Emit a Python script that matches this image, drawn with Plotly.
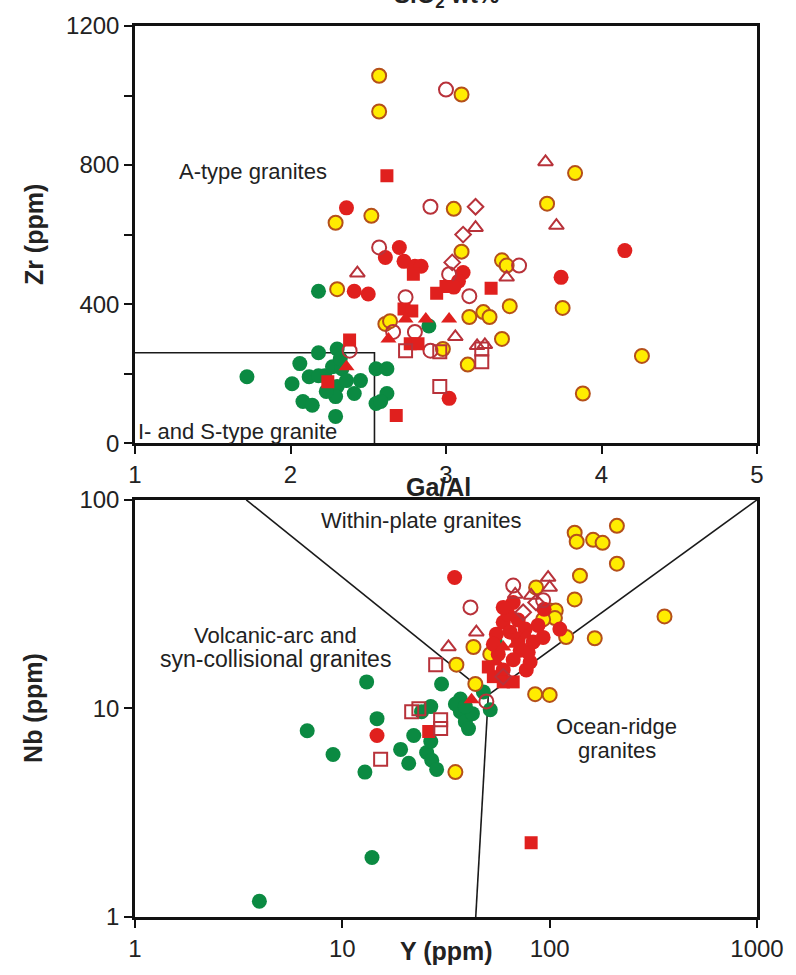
import plotly.graph_objects as go

# ---------------- Top panel: Zr (ppm) vs Ga/Al ----------------
ga_green = [1.72, 2.18, 2.18, 2.30, 2.06, 2.01, 2.08, 2.14, 2.22, 2.27, 2.30, 2.33, 2.36, 2.45, 2.29, 2.29,
            2.55, 2.62, 2.55, 2.62, 2.23, 2.12, 2.41, 2.89, 2.58, 2.18, 2.32]
zr_green = [191, 437, 260, 271, 229, 171, 120, 109, 194, 220, 163, 214, 180, 180, 134, 77,
            214, 214, 114, 143, 149, 191, 143, 337, 120, 194, 243]

ga_yellow = [2.57, 2.57, 3.10, 2.29, 2.52, 3.05, 3.83, 3.65, 3.10, 2.30, 3.36, 3.39, 3.41, 3.75, 3.15, 3.24,
             3.28, 3.36, 3.14, 4.26, 3.88, 2.98, 2.61, 2.64]
zr_yellow = [1057, 954, 1003, 634, 654, 674, 777, 689, 551, 443, 526, 511, 394, 389, 363, 377,
             363, 300, 226, 251, 143, 271, 343, 351]

ga_redcirc = [2.36, 2.41, 2.50, 2.61, 2.70, 2.73, 2.80, 2.84, 3.11, 3.08, 3.05, 3.74, 4.15, 3.02]
zr_redcirc = [677, 437, 429, 534, 563, 523, 509, 509, 491, 466, 449, 477, 554, 129]

ga_opencirc = [3.00, 2.90, 2.57, 2.38, 3.02, 3.15, 3.47, 2.74, 2.66, 2.80, 2.90]
zr_opencirc = [1017, 680, 563, 266, 486, 423, 511, 420, 320, 320, 266]

ga_redsq = [2.62, 2.79, 2.94, 3.00, 3.29, 2.68, 2.73, 2.78, 2.77, 2.82, 2.38, 2.24]
zr_redsq = [769, 486, 431, 451, 446, 80, 386, 380, 286, 286, 297, 177]

ga_opensq = [2.96, 2.74, 2.96, 3.23, 3.23]
zr_opensq = [163, 266, 263, 234, 271]

ga_redtri = [2.87, 3.02, 2.74, 2.63, 2.36]
zr_redtri = [357, 357, 357, 300, 220]

ga_opentri = [2.43, 3.19, 3.64, 3.71, 3.39, 3.06, 3.20, 3.25]
zr_opentri = [489, 620, 809, 626, 477, 306, 280, 283]

ga_opendia = [3.19, 3.11, 3.04]
zr_opendia = [680, 600, 520]

# I- and S-type field boundary
ga_is_line = [1.0, 2.54, 2.54]
zr_is_line = [260, 260, 0]

# ---------------- Bottom panel: Nb (ppm) vs Y (ppm) ----------------
y_green = [6.77, 9.02, 12.85, 13.9, 3.98, 13.1, 14.7, 30.1, 37.1, 37.1, 39.2, 40.6, 51.7, 47.9, 35.1,
           19.1, 20.9, 22.1, 24.1, 26.7, 25.5, 27.0, 28.5, 26.7, 54.7, 42.4, 39.2]
nb_green = [7.81, 6.01, 4.95, 1.93, 1.19, 13.4, 8.93, 13.1, 11.1, 9.65, 8.64, 8.0, 9.86, 12.0, 10.5,
            6.36, 5.46, 7.41, 9.65, 10.2, 6.15, 5.64, 5.1, 6.94, 20.8, 9.44, 10.2]

y_yellow = [42.9, 35.5, 43.8, 51.7, 86, 85.1, 100, 100, 107, 106, 120, 140, 132, 135, 162, 180,
            211, 211, 132, 358, 165, 35.1, 93]
nb_yellow = [19.7, 16.2, 13.1, 18.2, 38.0, 11.7, 11.6, 29.5, 29.5, 27.1, 22.0, 43.3, 69.5, 63, 64.3, 62.2,
             75, 49.4, 33.3, 27.6, 21.7, 4.95, 26.7]

y_redcirc = [14.7, 34.8, 59.7, 64.5, 70.5, 76.2, 83.2, 87.9, 72.1, 56.5, 59.7, 77.1, 80.5, 94.0, 112, 66.7, 55.3,
             63.1, 70.5, 78.8, 93, 66.7, 53.5, 59.7]
nb_redcirc = [7.41, 42.4, 25.9, 23.2, 26.5, 24.0, 20.8, 25.0, 19.0, 18.2, 15.3, 15.3, 16.7, 29.9, 24.0, 32.2, 22.7,
              28.2, 21.5, 18.6, 21.9, 17.1, 20.3, 30.5]

y_opencirc = [41.5, 66.7, 49.5, 93]
nb_opencirc = [30.5, 38.8, 10.8, 33]

y_redsq = [26.1, 81.4, 53.5, 59.7, 66.7, 50.6]
nb_redsq = [7.75, 2.27, 14.2, 13.4, 13.4, 15.8]

y_opensq = [28.2, 15.3, 21.6, 23.4, 29.8, 29.8]
nb_opensq = [16.2, 5.7, 9.65, 9.97, 8.83, 8.0]

y_redtri = [42.0, 59.7, 68.2, 74.5, 63.1, 77.1, 55.3]
nb_redtri = [11.0, 19.7, 20.3, 19.7, 23.7, 22.4, 16.7]

y_opentri = [32.5, 44.3, 98.3, 68.2, 81.4, 100]
nb_opentri = [19.7, 23.2, 42.4, 35.2, 34.8, 38]

y_opendia = [59.7, 86, 74.5]
nb_opendia = [14.2, 32.2, 28.9]

# Pearce et al. field boundaries
y_wpg_vag = [3.44, 50.6]
nb_wpg_vag = [100, 11.6]
y_wpg_org = [50.6, 1000]
nb_wpg_org = [11.6, 100]
y_vag_org = [50.6, 44]
nb_vag_org = [11.6, 1]

# ---------------- styles ----------------
GREEN = "#0b8a42"
RED = "#e0201e"
OPEN = "#b8323a"
YFILL = "#ffec00"
YLINE = "#b5501a"
FONT = "Liberation Sans, Arial, sans-serif"

styles = {
    "green": dict(symbol="circle", size=15, color=GREEN, line=dict(width=0)),
    "yellow": dict(symbol="circle", size=14, color=YFILL, line=dict(width=2, color=YLINE)),
    "redcirc": dict(symbol="circle", size=15, color=RED, line=dict(width=0)),
    "opencirc": dict(symbol="circle-open", size=14, color=OPEN, line=dict(width=2, color=OPEN)),
    "redsq": dict(symbol="square", size=13, color=RED, line=dict(width=0)),
    "opensq": dict(symbol="square-open", size=13, color=OPEN, line=dict(width=2, color=OPEN)),
    "redtri": dict(symbol="triangle-up", size=14, color=RED, line=dict(width=0)),
    "opentri": dict(symbol="triangle-up-open", size=13, color=OPEN, line=dict(width=2, color=OPEN)),
    "opendia": dict(symbol="diamond-open", size=12, color=OPEN, line=dict(width=2, color=OPEN)),
}

fig = go.Figure()

def add_pts(xs, ys, key, xa, ya):
    fig.add_trace(go.Scatter(x=xs, y=ys, mode="markers", marker=styles[key],
                             xaxis=xa, yaxis=ya, showlegend=False, hoverinfo="x+y"))

def add_line(xs, ys, xa, ya):
    fig.add_trace(go.Scatter(x=xs, y=ys, mode="lines", line=dict(color="#1a1a1a", width=1.6),
                             xaxis=xa, yaxis=ya, showlegend=False, hoverinfo="skip"))

# top panel
add_line(ga_is_line, zr_is_line, "x", "y")
add_pts(ga_green, zr_green, "green", "x", "y")
add_pts(ga_yellow, zr_yellow, "yellow", "x", "y")
add_pts(ga_redcirc, zr_redcirc, "redcirc", "x", "y")
add_pts(ga_opencirc, zr_opencirc, "opencirc", "x", "y")
add_pts(ga_redsq, zr_redsq, "redsq", "x", "y")
add_pts(ga_opensq, zr_opensq, "opensq", "x", "y")
add_pts(ga_redtri, zr_redtri, "redtri", "x", "y")
add_pts(ga_opentri, zr_opentri, "opentri", "x", "y")
add_pts(ga_opendia, zr_opendia, "opendia", "x", "y")

# bottom panel
add_line(y_wpg_vag, nb_wpg_vag, "x2", "y2")
add_line(y_wpg_org, nb_wpg_org, "x2", "y2")
add_line(y_vag_org, nb_vag_org, "x2", "y2")
add_pts(y_green, nb_green, "green", "x2", "y2")
add_pts(y_yellow, nb_yellow, "yellow", "x2", "y2")
add_pts(y_redcirc, nb_redcirc, "redcirc", "x2", "y2")
add_pts(y_opencirc, nb_opencirc, "opencirc", "x2", "y2")
add_pts(y_redsq, nb_redsq, "redsq", "x2", "y2")
add_pts(y_opensq, nb_opensq, "opensq", "x2", "y2")
add_pts(y_redtri, nb_redtri, "redtri", "x2", "y2")
add_pts(y_opentri, nb_opentri, "opentri", "x2", "y2")
add_pts(y_opendia, nb_opendia, "opendia", "x2", "y2")

W, H = 796, 975
ML, MR, MT, MB = 135, 36, 20, 58
PW, PH = W - ML - MR, H - MT - MB

def px(x):
    return (x - ML) / PW

def py(y):
    return (H - MB - y) / PH

axis_common = dict(showline=True, linecolor="#111", linewidth=2.5, mirror=True,
                   ticks="outside", ticklen=8, tickwidth=2, tickcolor="#111",
                   showgrid=False, zeroline=False,
                   tickfont=dict(family=FONT, size=24, color="#222"))

top_dom = [py(440), 1.0]
bot_dom = [0.0, py(497)]

fig.update_layout(
    width=W, height=H,
    margin=dict(l=ML, r=MR, t=MT, b=MB),
    paper_bgcolor="white", plot_bgcolor="white",
    font=dict(family=FONT, color="#222"),
    showlegend=False,
    xaxis=dict(axis_common, range=[1, 5], tickvals=[1, 2, 3, 4, 5], anchor="y", domain=[0, 1]),
    yaxis=dict(axis_common, range=[0, 1200], tickvals=[0, 200, 400, 600, 800, 1000, 1200],
               ticktext=["0", " ", "400", " ", "800", " ", "1200"], anchor="x", domain=top_dom),
    xaxis2=dict(axis_common, type="log", range=[0, 3], tickvals=[1, 10, 100, 1000],
                ticktext=["1", "10", "100", "1000"], anchor="y2", domain=[0, 1]),
    yaxis2=dict(axis_common, type="log", range=[0, 2], tickvals=[1, 10, 100],
                ticktext=["1", "10", "100"], anchor="x2", domain=bot_dom),
)

def note(text, x, y, size=22, bold=False, angle=0, xanchor="center", yanchor="middle"):
    t = "<b>" + text + "</b>" if bold else text
    fig.add_annotation(text=t, x=px(x), y=py(y), xref="paper", yref="paper",
                       showarrow=False, xanchor=xanchor, yanchor=yanchor, textangle=angle,
                       font=dict(family=FONT, size=size, color="#222"))

note("A-type granites", 254, 166)
note("I- and S-type granite", 136, 428, xanchor="left")
note("Within-plate granites", 423, 518)
note("Volcanic-arc and", 276, 634)
note("syn-collisional granites", 276, 657, size=23)
note("Ocean-ridge", 619, 725)
note("granites", 619, 749)
note("Zr (ppm)", 33, 230, size=25, bold=True, angle=-90)
note("Ga/Al", 440, 484, size=25, bold=True)
note("Nb (ppm)", 33, 706, size=25, bold=True, angle=-90)
note("Y (ppm)", 448, 951, size=25, bold=True)
# clipped heading remnant at the very top
note("SiO<sub>2</sub> wt%", 448, 8, size=24, bold=True, yanchor="bottom")

fig.write_html("out.html")
